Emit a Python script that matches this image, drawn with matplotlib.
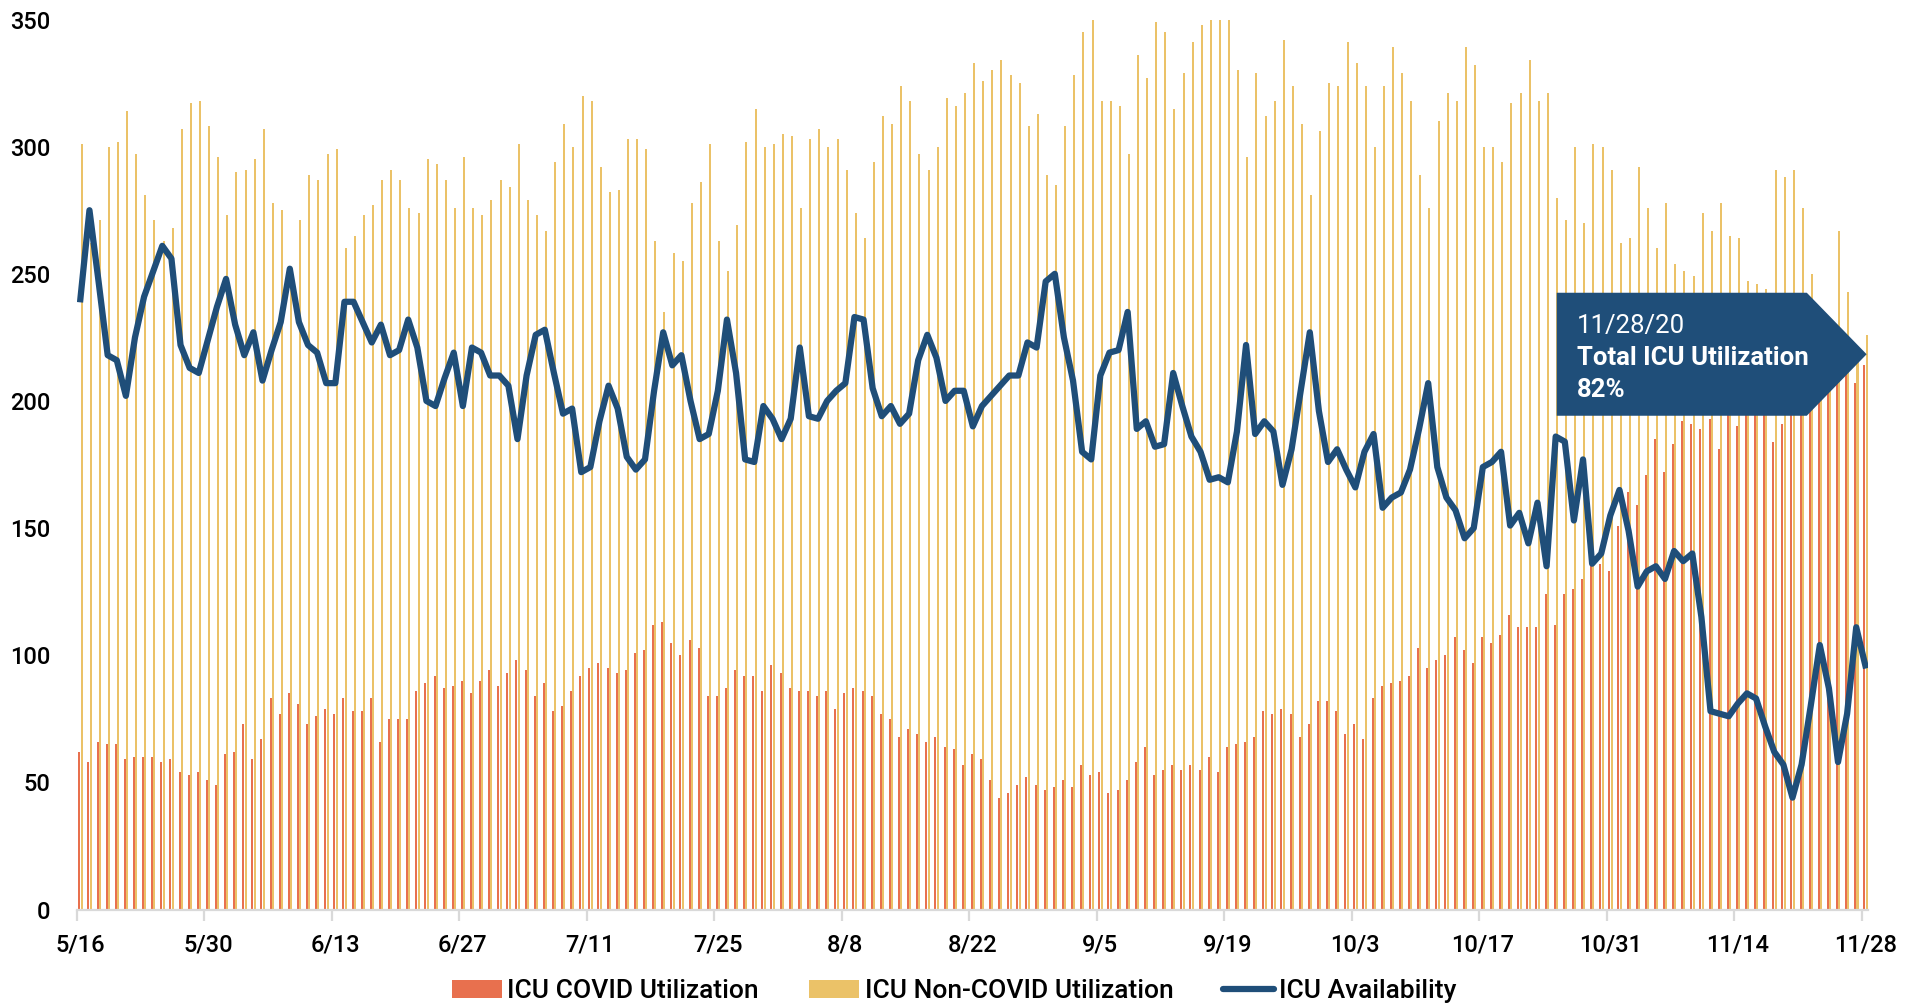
import matplotlib
matplotlib.use("Agg")
import matplotlib.pyplot as plt
from matplotlib.patches import Patch, Polygon
from matplotlib.lines import Line2D
import numpy as np
import pandas as pd

plt.rcParams['font.family'] = ['Roboto', 'DejaVu Sans']

# daily values, 5/16/2020 - 11/28/2020
dates = pd.date_range('2020-05-16', '2020-11-28', freq='D')

covid = [62, 58, 66, 65, 65, 59, 60, 60, 60, 58, 59, 54, 53, 54, 51, 49, 61, 62, 73, 59,
         67, 83, 77, 85, 81, 73, 76, 79, 77, 83, 78, 78, 83,
         66, 75, 75, 75, 86, 89, 92, 87, 88, 90, 85, 90, 94, 88, 93, 98, 94, 84, 89, 78,
         80, 86, 92, 95, 97, 95, 93, 94, 101, 102, 112, 113, 105,
         100, 106, 103, 84, 84, 87, 94, 92, 92, 86, 96, 93, 87, 86, 86, 84, 86, 79, 85, 87,
         86, 84, 77, 75, 68, 71, 69, 66, 68, 64, 63, 57, 61,
         59, 51, 44, 46, 49, 52, 49, 47, 48, 51, 48, 57, 53, 54, 46, 47, 51, 58, 64, 53,
         55, 57, 55, 57, 55, 60, 54, 64, 65, 66, 68, 78, 77,
         79, 77, 68, 73, 82, 82, 78, 69, 73, 67, 83, 88, 89, 90, 92, 103, 95, 98, 100, 107,
         102, 97, 107, 105, 108, 116, 111, 111, 111, 124, 112, 124, 126,
         130, 137, 136, 133, 151, 164, 159, 171, 185, 172, 183, 192, 191, 189, 193, 181,
         198, 190, 196, 199, 197, 184, 191, 198, 200, 202, 204, 206, 208, 212, 207, 214]

noncovid = [301, 262, 271, 300, 302, 314, 297, 281, 271, 263, 268, 307, 317, 318, 308, 296,
            273, 290, 291, 295, 307, 278, 275, 248, 271, 289, 287, 297, 299, 260, 265, 273, 277,
            287, 291, 287, 276, 274, 295, 293, 287, 276, 296, 276, 273, 279, 287, 284, 301,
            279, 273, 267, 294, 309, 300, 320, 318, 292, 282, 283, 303, 303, 299, 263, 235, 258,
            255, 278, 286, 301, 263, 251, 269, 302, 315, 300, 301, 305, 304, 276, 303, 307,
            300, 303, 291, 274, 264, 294, 312, 309, 324, 318, 297, 291, 300, 319, 316, 321, 333,
            326, 330, 334, 328, 325, 308, 313, 289, 285, 308, 328, 345, 350, 318, 318, 316,
            297, 336, 327, 349, 345, 315, 329, 341, 348, 350, 350, 350, 330, 296, 329, 312, 318,
            342, 324, 309, 281, 306, 325, 324, 341, 333, 324, 300, 324, 339, 329, 318, 289,
            276, 310, 321, 318, 339, 332, 300, 300, 294, 317, 321, 334, 318, 321, 280, 271, 300,
            270, 301, 300, 291, 262, 264, 292, 276, 260, 278, 254, 251, 249, 274, 267, 278,
            265, 264, 247, 246, 244, 291, 288, 291, 276, 250, 232, 228, 267, 243, 218, 226]

availability = [240, 275, 247, 218, 216, 202, 225, 241, 251, 261, 256, 222, 213, 211, 224, 237,
                248, 230, 218, 227, 208, 220, 231, 252, 231, 222, 219, 207, 207, 239, 239, 231, 223,
                230, 218, 220, 232, 221, 200, 198, 209, 219, 198, 221, 219, 210, 210, 206, 185,
                210, 226, 228, 211, 195, 197, 172, 174, 192, 206, 197, 178, 173, 177, 204, 227, 214,
                218, 200, 185, 187, 204, 232, 211, 177, 176, 198, 193, 185, 193, 221, 194, 193,
                200, 204, 207, 233, 232, 205, 194, 198, 191, 195, 216, 226, 217, 200, 204, 204, 190,
                198, 202, 206, 210, 210, 223, 221, 247, 250, 225, 208, 180, 177, 210, 219, 220,
                235, 189, 192, 182, 183, 211, 198, 186, 180, 169, 170, 168, 188, 222, 187, 192, 188,
                167, 181, 204, 227, 196, 176, 181, 173, 166, 180, 187, 158, 162, 164, 173, 189,
                207, 174, 162, 157, 146, 150, 174, 176, 180, 151, 156, 144, 160, 135, 186, 184, 153,
                177, 136, 140, 155, 165, 149, 127, 133, 135, 130, 141, 137, 140, 115, 78, 77,
                76, 81, 85, 83, 72, 62, 57, 44, 57, 80, 104, 87, 58, 77, 111, 96]

tick_labels = [f"{d.month}/{d.day}" for d in dates]
yticks = [0, 50, 100, 150, 200, 250, 300, 350]

c_covid = '#E8704E'
c_non = '#EBC268'
c_line = '#1F4E79'

x = np.arange(len(dates))

fig = plt.figure(figsize=(19.14, 10.06), dpi=100)
ax = fig.add_axes([0.0401, 0.0959, 0.9359, 0.8847])

ax.bar(x - 0.11, covid, width=0.22, color=c_covid, zorder=2)
ax.bar(x + 0.14, noncovid, width=0.22, color=c_non, zorder=2)
ax.plot(x, availability, color=c_line, lw=4.5, solid_joinstyle='round', zorder=3)

ax.set_xlim(-0.395, 196.3)
ax.set_ylim(0, 350)

for s in ['top', 'right', 'left']:
    ax.spines[s].set_visible(False)
ax.spines['bottom'].set_color('#D9D9D9')
ax.spines['bottom'].set_linewidth(1.6)

ax.set_yticks(yticks)
ax.set_yticklabels([str(v) for v in yticks], fontweight='medium')
ax.tick_params(axis='y', length=0, pad=19, labelsize=17, labelcolor='black')

# labels at day centres, tick marks at the category edges
ax.set_xticks(x[::14])
ax.set_xticklabels(tick_labels[::14], fontweight='medium')
ax.set_xticks(x[::14] - 0.395, minor=True)
ax.tick_params(axis='x', which='major', length=0, pad=17, labelsize=17, labelcolor='black')
ax.tick_params(axis='x', which='minor', length=8, width=1.6, color='#D9D9D9')

# callout box
box = Polygon([[0.8262, 0.5548], [0.8262, 0.6930], [0.9658, 0.6930], [0.9992, 0.6239],
               [0.9658, 0.5548]], closed=True, transform=ax.transAxes,
              facecolor=c_line, edgecolor='none', zorder=5, clip_on=False)
ax.add_patch(box)
ax.text(0.8376, 0.6478, '11/28/20', transform=ax.transAxes, color='white',
        fontsize=18.5, va='baseline', ha='left', zorder=6)
ax.text(0.8376, 0.6118, 'Total ICU Utilization', transform=ax.transAxes, color='white',
        fontsize=18.5, fontweight='bold', va='baseline', ha='left', zorder=6)
ax.text(0.8376, 0.5758, '82%', transform=ax.transAxes, color='white',
        fontsize=18.5, fontweight='bold', va='baseline', ha='left', zorder=6)

handles = [Patch(facecolor=c_covid), Patch(facecolor=c_non),
           Line2D([], [], color=c_line, lw=4.5, solid_capstyle='round')]
labels = ['ICU COVID Utilization', 'ICU Non-COVID Utilization', 'ICU Availability']
fig.legend(handles, labels, loc='center', bbox_to_anchor=(0.4985, 0.0149), ncol=3,
           frameon=False, handlelength=1.9, handleheight=0.65,
           handletextpad=0.2, columnspacing=1.9,
           prop={'size': 19, 'weight': 'medium'})

fig.savefig('out.png', dpi=100)
